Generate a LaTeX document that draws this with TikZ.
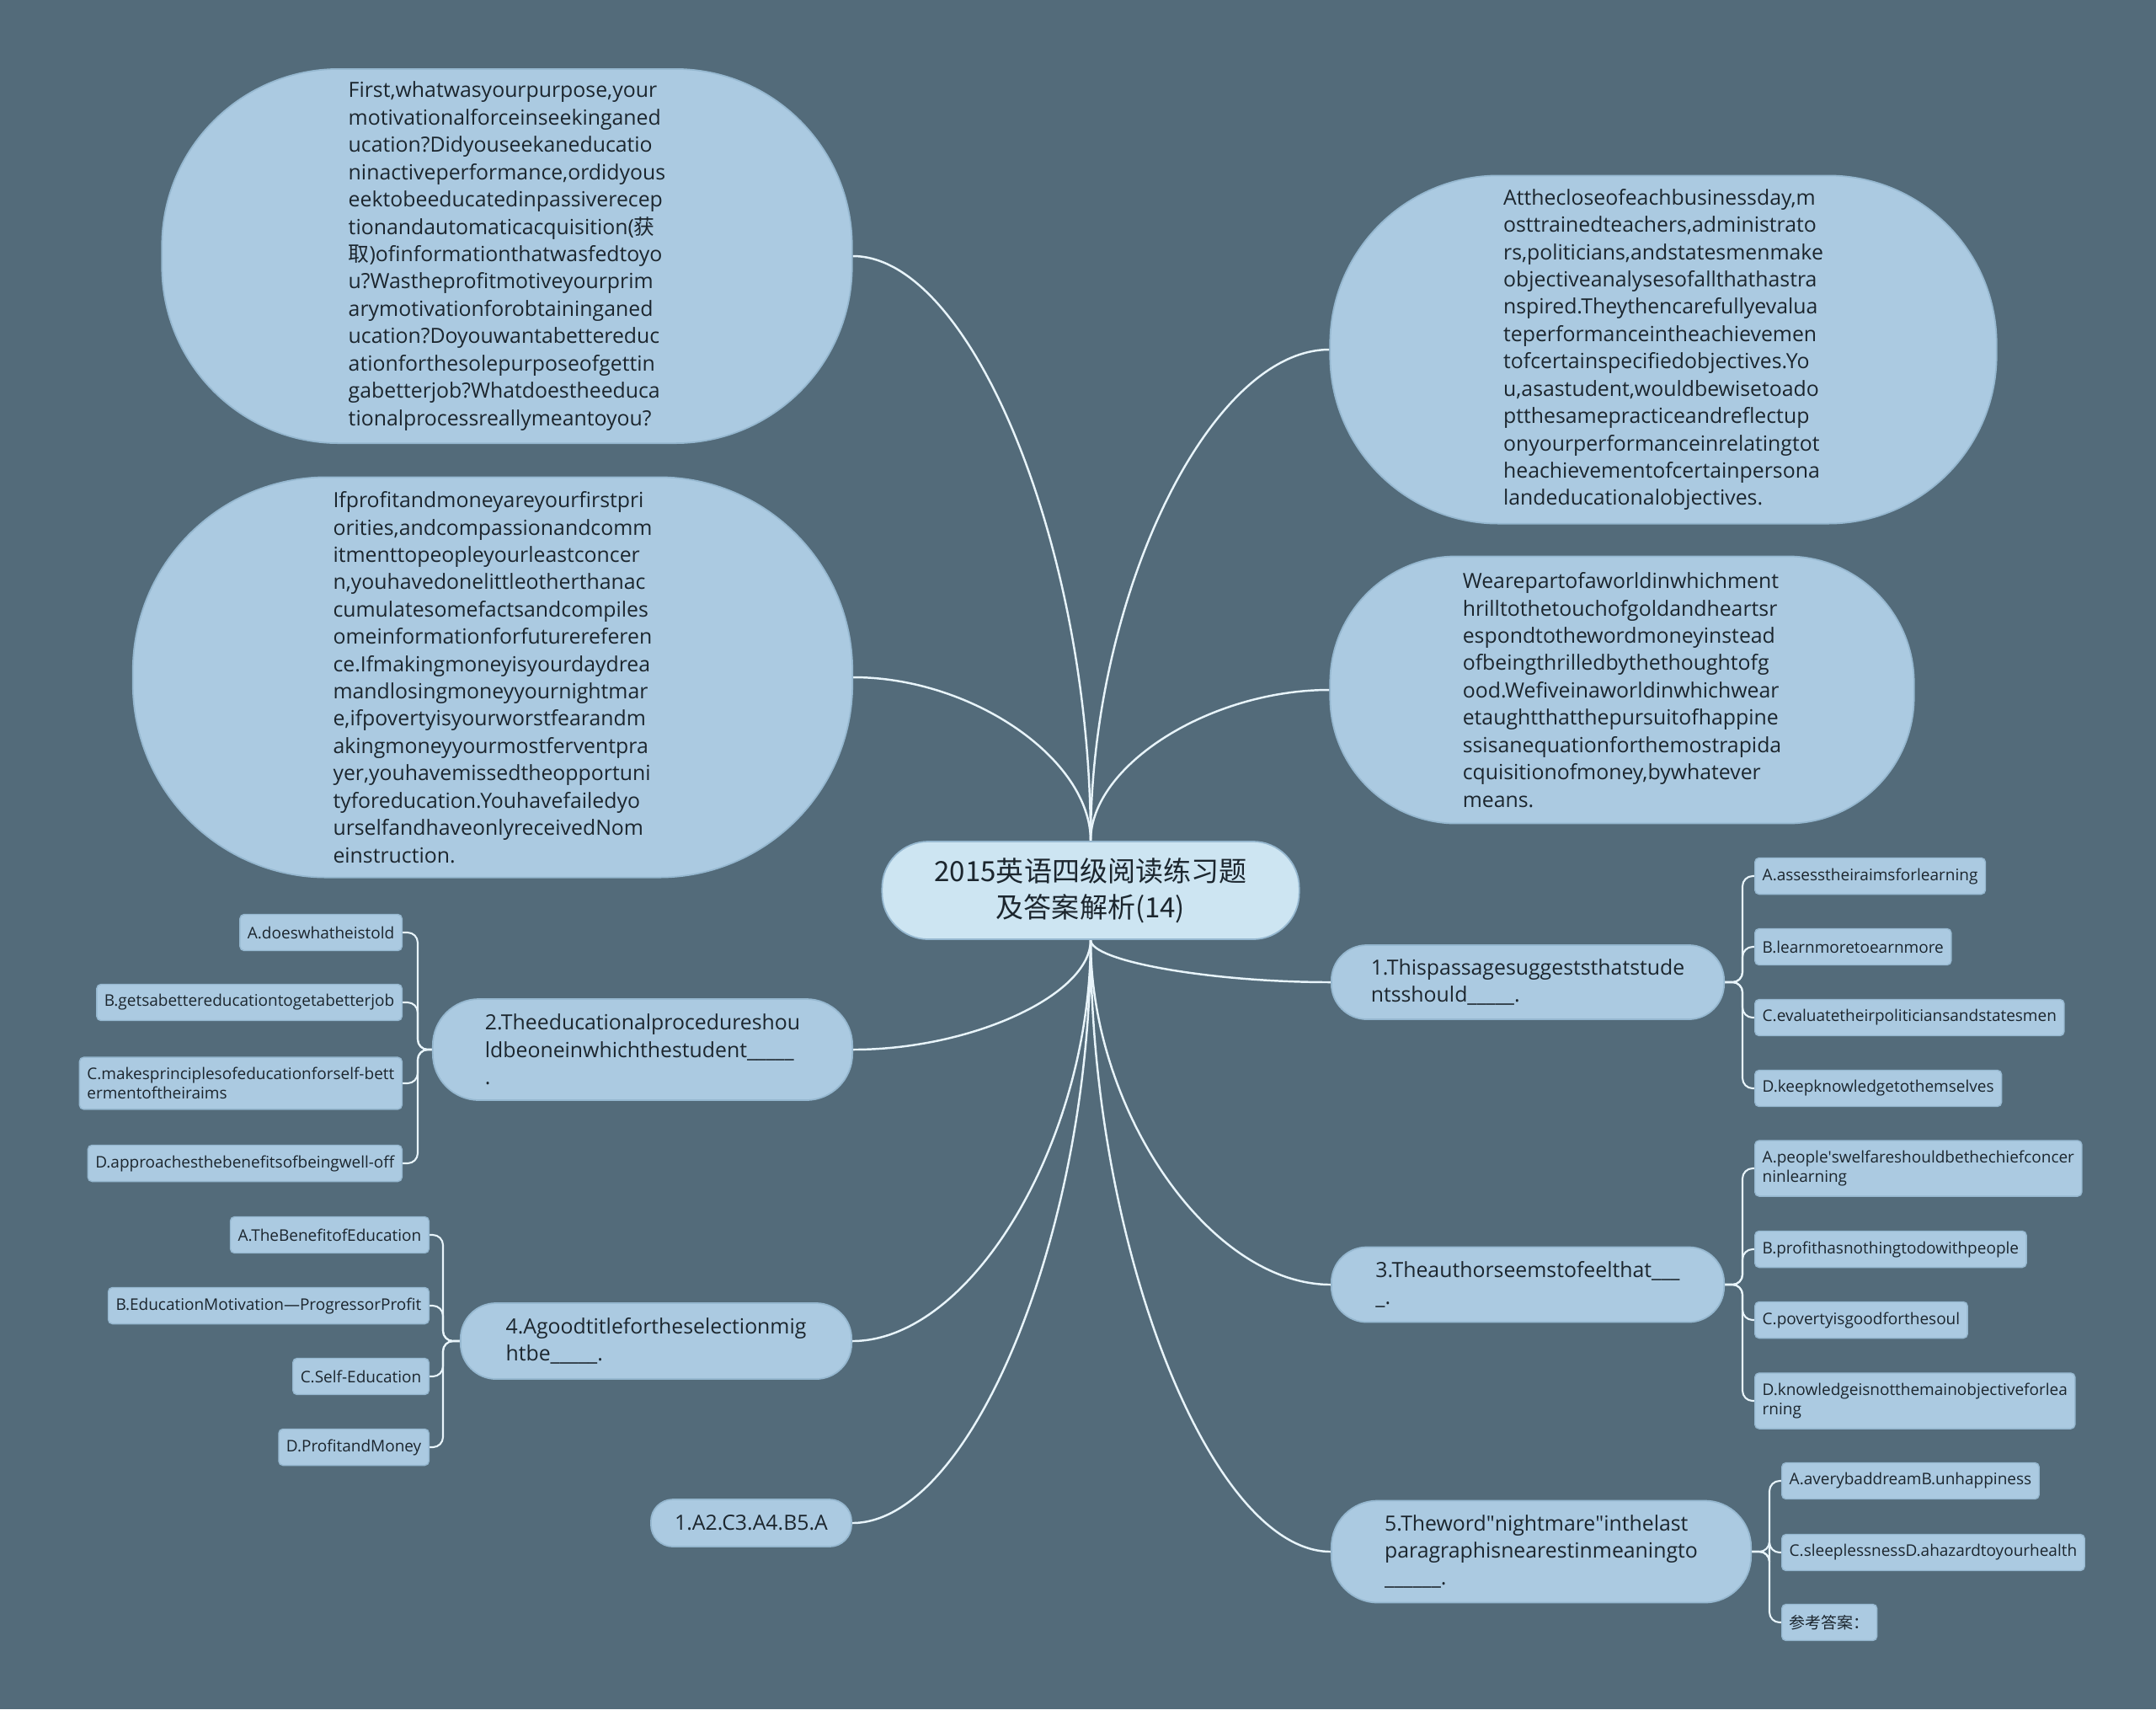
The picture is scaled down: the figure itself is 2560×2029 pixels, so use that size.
\documentclass[tikz,border=0pt]{standalone}
\usepackage{fontspec}
\setmainfont{Open Sans}
\newfontfamily\cjk{Noto Sans CJK SC}
\usetikzlibrary{calc}
\definecolor{slatebg}{RGB}{83,107,122}
\definecolor{leafblue}{RGB}{171,202,225}
\definecolor{hubblue}{RGB}{205,229,242}
\definecolor{nodeedge}{RGB}{150,184,208}
\definecolor{linkwhite}{RGB}{232,244,250}
\definecolor{inkdark}{RGB}{28,38,46}
\pgfdeclarelayer{back}
\pgfdeclarelayer{links}
\pgfsetlayers{back,links,main}

\begin{document}
\begin{tikzpicture}[
  x=0.01cm, y=-0.01cm,
  hubnode/.style={fill=hubblue, draw=nodeedge, line width=0.5pt, rounded corners=0.55cm, minimum width=4.95cm, minimum height=1.16cm, align=center, inner sep=0pt, text=inkdark, font=\cjk\fontsize{9.4pt}{12.2pt}\selectfont},
  bignode/.style={fill=leafblue, draw=nodeedge, line width=0.5pt, align=left, inner sep=0pt, text=inkdark, font=\fontsize{7.06pt}{9.22pt}\selectfont},
  qnode/.style={fill=leafblue, draw=nodeedge, line width=0.5pt, align=left, inner sep=0pt, rounded corners=0.42cm, text=inkdark, font=\fontsize{7.06pt}{9.22pt}\selectfont},
  optnode/.style={fill=leafblue, draw=nodeedge, line width=0.4pt, align=left, rounded corners=0.05cm, inner xsep=0.09cm, inner ysep=0.12cm, minimum height=0.43cm, text=inkdark, font=\fontsize{5.4pt}{6.54pt}\selectfont},
  link/.style={draw=linkwhite, line width=0.7pt},
  sublink/.style={draw=linkwhite, line width=0.6pt, rounded corners=0.12cm}
]
\begin{pgfonlayer}{back}
  \fill[slatebg] (0,0) rectangle (2560,2029);
\end{pgfonlayer}
\useasboundingbox (0,0) rectangle (2560,2029);

\node[hubnode] (hub) at (1295,1057) {2015英语四级阅读练习题\\及答案解析(14)};

\node[bignode, minimum width=8.19cm, minimum height=4.44cm, rounded corners=2.1cm] (tl1) at (602,304) {
  First,whatwasyourpurpose,your\\
  motivationalforceinseekinganed\\
  ucation?Didyouseekaneducatio\\
  ninactiveperformance,ordidyous\\
  eektobeeducatedinpassiverecep\\
  tionandautomaticacquisition({\cjk 获}\\
  {\cjk 取})ofinformationthatwasfedtoyo\\
  u?Wastheprofitmotiveyourprim\\
  arymotivationforobtaininganed\\
  ucation?Doyouwantabettereduc\\
  ationforthesolepurposeofgettin\\
  gabetterjob?Whatdoestheeduca\\
  tionalprocessreallymeantoyou?};
\node[bignode, minimum width=8.54cm, minimum height=4.75cm, rounded corners=2.3cm] (tl2) at (585,804) {
  Ifprofitandmoneyareyourfirstpri\\
  orities,andcompassionandcomm\\
  itmenttopeopleyourleastconcer\\
  n,youhavedonelittleotherthanac\\
  cumulatesomefactsandcompiles\\
  omeinformationforfuturereferen\\
  ce.Ifmakingmoneyisyourdaydrea\\
  mandlosingmoneyyournightmar\\
  e,ifpovertyisyourworstfearandm\\
  akingmoneyyourmostferventpra\\
  yer,youhavemissedtheopportuni\\
  tyforeducation.Youhavefailedyo\\
  urselfandhaveonlyreceivedNom\\
  einstruction.};
\node[bignode, minimum width=7.91cm, minimum height=4.13cm, rounded corners=2.0cm] (tr1) at (1975,415) {
  Atthecloseofeachbusinessday,m\\
  osttrainedteachers,administrato\\
  rs,politicians,andstatesmenmake\\
  objectiveanalysesofallthathastra\\
  nspired.Theythencarefullyevalua\\
  teperformanceintheachievemen\\
  tofcertainspecifiedobjectives.Yo\\
  u,asastudent,wouldbewisetoado\\
  ptthesamepracticeandreflectup\\
  onyourperformanceinrelatingtot\\
  heachievementofcertainpersona\\
  landeducationalobjectives.};
\node[bignode, minimum width=6.93cm, minimum height=3.17cm, rounded corners=1.5cm] (tr2) at (1926,819) {
  Wearepartofaworldinwhichment\\
  hrilltothetouchofgoldandheartsr\\
  espondtothewordmoneyinstead\\
  ofbeingthrilledbythethoughtofg\\
  ood.Wefiveinaworldinwhichwear\\
  etaughtthatthepursuitofhappine\\
  ssisanequationforthemostrapida\\
  cquisitionofmoney,bywhatever\\
  means.};

\node[qnode, minimum width=4.66cm, minimum height=0.88cm] (q1) at (1814,1166) {1.Thispassagesuggeststhatstude\\ntsshould\_\_\_\_\_.};
\node[qnode, minimum width=4.98cm, minimum height=1.20cm, rounded corners=0.55cm] (q2) at (763,1246) {2.Theeducationalprocedureshou\\ldbeoneinwhichthestudent\_\_\_\_\_\\.};
\node[qnode, minimum width=4.66cm, minimum height=0.89cm] (q3) at (1814,1525) {3.Theauthorseemstofeelthat\_\_\_\\\_.};
\node[qnode, minimum width=4.64cm, minimum height=0.90cm] (q4) at (779,1592) {4.Agoodtitlefortheselectionmig\\htbe\_\_\_\_\_.};
\node[qnode, minimum width=4.98cm, minimum height=1.21cm, rounded corners=0.55cm] (q5) at (1830,1842) {5.Theword\textquotedbl nightmare\textquotedbl inthelast\\paragraphisnearestinmeaningto\\\_\_\_\_\_\_.};
\node[qnode, minimum width=2.38cm, minimum height=0.56cm, rounded corners=0.26cm] (ans) at (892,1808) {1.A2.C3.A4.B5.A};

\node[optnode, anchor=west] (q1a) at (2083,1040) {A.assesstheiraimsforlearning};
\node[optnode, anchor=west] (q1b) at (2083,1124) {B.learnmoretoearnmore};
\node[optnode, anchor=west] (q1c) at (2083,1208) {C.evaluatetheirpoliticiansandstatesmen};
\node[optnode, anchor=west] (q1d) at (2083,1292) {D.keepknowledgetothemselves};

\node[optnode, anchor=west] (q3a) at (2083,1387) {A.people\textquotesingle swelfareshouldbethechiefconcer\\ninlearning};
\node[optnode, anchor=west] (q3b) at (2083,1483) {B.profithasnothingtodowithpeople};
\node[optnode, anchor=west] (q3c) at (2083,1567) {C.povertyisgoodforthesoul};
\node[optnode, anchor=west] (q3d) at (2083,1663) {D.knowledgeisnotthemainobjectiveforlea\\rning};

\node[optnode, anchor=west] (q5a) at (2115,1758) {A.averybaddreamB.unhappiness};
\node[optnode, anchor=west] (q5b) at (2115,1843) {C.sleeplessnessD.ahazardtoyourhealth};
\node[optnode, anchor=west, font=\cjk\fontsize{5.4pt}{6.54pt}\selectfont] (q5c) at (2115,1926) {参考答案：};

\node[optnode, anchor=east] (q2a) at (478,1107) {A.doeswhatheistold};
\node[optnode, anchor=east] (q2b) at (478,1190) {B.getsabettereducationtogetabetterjob};
\node[optnode, anchor=east] (q2c) at (478,1286) {C.makesprinciplesofeducationforself-bett\\ermentoftheiraims};
\node[optnode, anchor=east] (q2d) at (478,1381) {D.approachesthebenefitsofbeingwell-off};

\node[optnode, anchor=east] (q4a) at (510,1466) {A.TheBenefitofEducation};
\node[optnode, anchor=east] (q4b) at (510,1550) {B.EducationMotivation—ProgressorProfit};
\node[optnode, anchor=east] (q4c) at (510,1634) {C.Self-Education};
\node[optnode, anchor=east] (q4d) at (510,1718) {D.ProfitandMoney};

\begin{pgfonlayer}{links}
  \foreach \leaf in {tl1,tl2}
    \draw[link] (hub.north) .. controls ($(hub.north)!0.5!(hub.north |- \leaf.east)$) and ($(\leaf.east)!0.5!(hub.north |- \leaf.east)$) .. (\leaf.east);
  \foreach \leaf in {tr1,tr2}
    \draw[link] (hub.north) .. controls ($(hub.north)!0.5!(hub.north |- \leaf.west)$) and ($(\leaf.west)!0.5!(hub.north |- \leaf.west)$) .. (\leaf.west);
  \foreach \leaf in {q2,q4,ans}
    \draw[link] (hub.south) .. controls ($(hub.south)!0.5!(hub.south |- \leaf.east)$) and ($(\leaf.east)!0.5!(hub.south |- \leaf.east)$) .. (\leaf.east);
  \foreach \leaf in {q1,q3,q5}
    \draw[link] (hub.south) .. controls ($(hub.south)!0.5!(hub.south |- \leaf.west)$) and ($(\leaf.west)!0.5!(hub.south |- \leaf.west)$) .. (\leaf.west);
  \foreach \opt in {q1a,q1b,q1c,q1d}
    \draw[sublink] (q1.east) -- ++(21,0) |- (\opt.west);
  \foreach \opt in {q3a,q3b,q3c,q3d}
    \draw[sublink] (q3.east) -- ++(21,0) |- (\opt.west);
  \foreach \opt in {q5a,q5b,q5c}
    \draw[sublink] (q5.east) -- ++(21,0) |- (\opt.west);
  \foreach \opt in {q2a,q2b,q2c,q2d}
    \draw[sublink] (q2.west) -- ++(-17,0) |- (\opt.east);
  \foreach \opt in {q4a,q4b,q4c,q4d}
    \draw[sublink] (q4.west) -- ++(-20,0) |- (\opt.east);
\end{pgfonlayer}
\end{tikzpicture}
\end{document}
